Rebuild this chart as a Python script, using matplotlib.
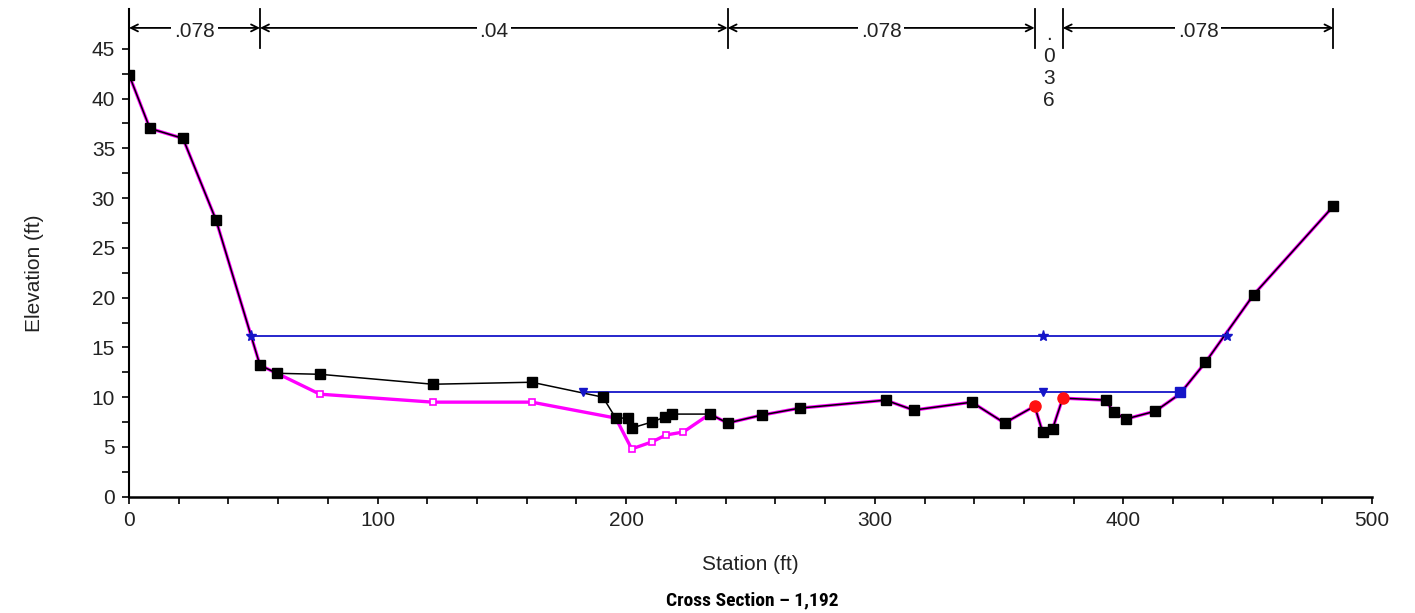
import numpy as np
import matplotlib
matplotlib.use("Agg")
import matplotlib.pyplot as plt
from matplotlib.ticker import MultipleLocator

plt.rcParams['font.family'] = ['Liberation Sans', 'DejaVu Sans']

# ground survey points (station ft, elevation ft)
ground_sta = [0, 8.4, 21.7, 35.0, 52.7, 59.5, 76.8, 122.2, 162.0, 190.6, 195.8, 200.6,
              202.2, 210.3, 215.5, 218.3, 233.6, 240.8, 254.5, 269.8, 304.4, 315.6,
              339.0, 352.2, 364.3, 367.5, 371.5, 375.6, 392.8, 396.1, 400.9, 412.9,
              422.6, 433.0, 452.4, 484.5]
ground_elev = [42.4, 37.0, 36.0, 27.8, 13.2, 12.4, 12.3, 11.3, 11.5, 10.0, 7.9, 7.9,
               6.9, 7.5, 8.0, 8.3, 8.3, 7.4, 8.2, 8.9, 9.7, 8.7,
               9.5, 7.4, 9.1, 6.5, 6.8, 9.9, 9.7, 8.5, 7.8, 8.6,
               10.3, 13.5, 20.3, 29.2]

# modified (excavated) ground, magenta
mod_sta = [0, 8.4, 21.7, 35.0, 52.7, 59.5, 76.8, 122.2, 162.0, 195.8, 202.2, 210.3,
           216.0, 223.0, 233.6, 240.8, 254.5, 269.8, 304.4, 315.6, 339.0, 352.2,
           364.3, 367.5, 371.5, 375.6, 392.8, 396.1, 400.9, 412.9, 422.6, 433.0,
           452.4, 484.5]
mod_elev = [42.4, 37.0, 36.0, 27.8, 13.2, 12.4, 10.3, 9.5, 9.5, 7.9, 4.8, 5.5,
            6.2, 6.5, 8.3, 7.4, 8.2, 8.9, 9.7, 8.7, 9.5, 7.4,
            9.1, 6.5, 6.8, 9.9, 9.7, 8.5, 7.8, 8.6, 10.3, 13.5,
            20.3, 29.2]
mod_marked = [6, 7, 8, 10, 11, 12, 13]

# bank stations
bank_sta = [364.3, 375.6]
bank_elev = [9.1, 9.9]

# water surfaces
ws1_sta = [49.0, 367.5, 441.5]
ws1_elev = 16.15
ws2_sta = [182.5, 367.5, 422.6]
ws2_elev = 10.5

# Manning's n breaks
n_breaks = [0, 52.7, 240.8, 364.3, 375.6, 484.5]
n_values = [".078", ".04", ".078", ".036", ".078"]

fs = 15
txt = "#222222"

fig = plt.figure(figsize=(14.15, 6.13), dpi=100)
ax = fig.add_axes([129/1415, 1 - 496.7/613, (1372-129)/1415, (496.7-9)/613])

ax.plot(mod_sta, mod_elev, "-", color="#ff00ff", linewidth=2.4, zorder=2)
ax.plot([mod_sta[i] for i in mod_marked], [mod_elev[i] for i in mod_marked], "s",
        markersize=5, markerfacecolor="white", markeredgecolor="#ff00ff",
        markeredgewidth=1.2, zorder=3)
ax.plot(ground_sta, ground_elev, "-", color="black", linewidth=1.1, zorder=4)
plain = [i for i, s in enumerate(ground_sta) if s not in bank_sta and s != ws2_sta[2]]
ax.plot([ground_sta[i] for i in plain], [ground_elev[i] for i in plain], "s",
        color="black", markersize=7, zorder=4)
ax.plot(bank_sta, bank_elev, "o", color="#ff1010", markersize=8, zorder=5)

wsc = "#1515c8"
ax.plot(ws1_sta, [ws1_elev]*3, "-", color=wsc, linewidth=1.3, zorder=3)
ax.plot(ws1_sta, [ws1_elev]*3, "*", color=wsc, markersize=8, zorder=6)
ax.plot(ws2_sta, [ws2_elev]*3, "-", color=wsc, linewidth=1.3, zorder=3)
ax.plot(ws2_sta[:2], [ws2_elev]*2, "v", color=wsc, markersize=6, zorder=6)
ax.plot(ws2_sta[2:], [ws2_elev], "s", color=wsc, markersize=7, zorder=6)

# Manning's n bars along the top
ybar_lo, ybar_hi, yarr = 45.1, 49.0, 47.1
for s in n_breaks:
  ax.plot([s, s], [ybar_lo, ybar_hi], color="black", linewidth=1.3, clip_on=False)
for i, n in enumerate(n_values):
  x0, x1 = n_breaks[i], n_breaks[i+1]
  xm = (x0 + x1) / 2
  if x1 - x0 > 30:
    for xe in (x0, x1):
      ax.annotate("", xy=(xe, yarr), xytext=(xm, yarr), annotation_clip=False,
                  arrowprops=dict(arrowstyle="->,head_length=0.5,head_width=0.25",
                                  color="black", lw=1.3, shrinkA=0, shrinkB=0))
    ax.text(xm, yarr - 0.35, n, ha="center", va="center", fontsize=fs,
            color=txt, clip_on=False,
            bbox=dict(facecolor="white", edgecolor="none", pad=2))
  else:
    ax.text(xm, 47.4, "\n".join(n), ha="center", va="top", fontsize=fs,
            color=txt, linespacing=1.2, clip_on=False)

ax.set_xlim(0, 500)
ax.set_ylim(0, 49)
ax.xaxis.set_major_locator(MultipleLocator(100))
ax.xaxis.set_minor_locator(MultipleLocator(20))
ax.set_yticks([0, 5, 10, 15, 20, 25, 30, 35, 40, 45])
ax.set_yticks(np.arange(2.5, 46, 5), minor=True)
ax.tick_params(which="both", direction="out", length=5, width=1.2, labelsize=fs,
               labelcolor=txt, pad=5)
ax.spines["top"].set_visible(False)
ax.spines["right"].set_visible(False)
ax.spines["left"].set_linewidth(1.5)
ax.spines["bottom"].set_linewidth(1.8)

fig.text(750/1415, 1 - 565/613, "Station (ft)", ha="center", va="center",
         fontsize=fs, color=txt)
fig.text(35/1415, 1 - 273/613, "Elevation (ft)", ha="center", va="center",
         rotation=90, fontsize=fs, color=txt)
fig.text(752/1415, 1 - 600/613, "Cross Section \u2013 1,192", ha="center",
         va="center", fontsize=14, fontweight="bold",
         family=["Roboto Condensed", "Liberation Sans Narrow", "Liberation Sans"])

fig.savefig("out.png", dpi=100)
